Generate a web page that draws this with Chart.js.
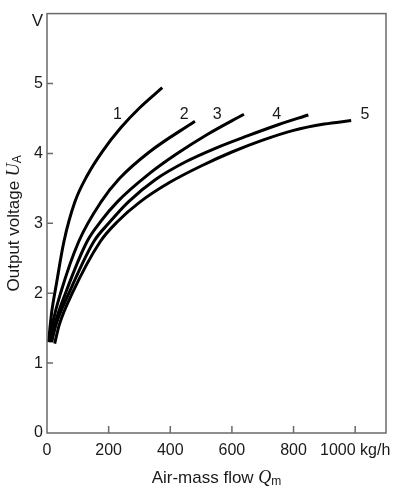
<!DOCTYPE html>
<html>
<head>
<meta charset="utf-8">
<title>Output voltage vs air-mass flow</title>
<script src="https://cdn.jsdelivr.net/npm/chart.js@4.4.1/dist/chart.umd.min.js"></script>
<style>
    html, body { margin: 0; padding: 0; background: #fff; }
    #flowChart { display: block; }
</style>
</head>
<body>
<canvas id="flowChart" width="400" height="491"></canvas>
<script>
// Air-mass flow (kg/h) and output voltage (V) for each curve
const flow1 = [5, 15, 30, 55, 90, 130, 180, 240, 300, 374];
const volt1 = [1.3, 1.72, 2.12, 2.74, 3.3, 3.68, 4.03, 4.37, 4.65, 4.94];
const flow2 = [8, 20, 44, 103, 176, 235, 332, 480];
const volt2 = [1.3, 1.6, 2.0, 2.74, 3.31, 3.64, 4.02, 4.46];
const flow3 = [12, 25, 60, 130, 175, 229, 332, 420, 520, 639];
const volt3 = [1.3, 1.55, 2.0, 2.74, 3.03, 3.31, 3.71, 3.99, 4.27, 4.56];
const flow4 = [15, 30, 71, 152, 200, 265, 350, 450, 550, 650, 750, 848];
const volt4 = [1.3, 1.56, 2.0, 2.74, 3.0, 3.31, 3.62, 3.88, 4.08, 4.25, 4.41, 4.55];
const flow5 = [25, 40, 82, 173, 230, 300, 400, 500, 600, 700, 800, 900, 987];
const volt5 = [1.28, 1.55, 2.0, 2.74, 3.03, 3.30, 3.59, 3.82, 4.02, 4.19, 4.33, 4.42, 4.47];

// Curve numbers and where they sit
const curveNames = ['1', '2', '3', '4', '5'];
const curveNameFlow = [229, 445, 552, 745, 1032];
const curveNameVolt = [4.55, 4.55, 4.55, 4.55, 4.55];

// Axis ticks
const xTickValues = [0, 200, 400, 600, 800, 1000];
const xTickLabels = ['0', '200', '400', '600', '800', '1000 kg/h'];
const yTickValues = [0, 1, 2, 3, 4, 5, 6];
const yTickLabels = ['0', '1', '2', '3', '4', '5', 'V'];

document.addEventListener('DOMContentLoaded', () => {
    const canvas = document.getElementById('flowChart');
    const sansFont = '"Liberation Sans", Arial, sans-serif';
    const serifFont = '"Liberation Serif", "Times New Roman", serif';

    function toPoints(xs, ys) {
        return xs.map((x, i) => ({ x: x, y: ys[i] }));
    }

    const curves = [
        toPoints(flow1, volt1),
        toPoints(flow2, volt2),
        toPoints(flow3, volt3),
        toPoints(flow4, volt4),
        toPoints(flow5, volt5)
    ];

//********************************************************************************
///Frame, inner tick marks, unit label, curve numbers and axis titles
//********************************************************************************
    const decorations = {
        id: 'decorations',
        afterDraw(chart) {
            const ctx = chart.ctx;
            const area = chart.chartArea;
            const xScale = chart.scales.x;
            const yScale = chart.scales.y;

            ctx.save();
            ctx.strokeStyle = '#6a6a6a';
            ctx.lineWidth = 1.5;
            ctx.strokeRect(area.left, area.top, area.right - area.left, area.bottom - area.top);

            // tick marks point into the plot
            ctx.beginPath();
            xTickValues.forEach(v => {
                if (v === 0) return;
                const px = xScale.getPixelForValue(v);
                ctx.moveTo(px, area.bottom);
                ctx.lineTo(px, area.bottom - 7);
            });
            yTickValues.forEach(v => {
                if (v === 0 || v === 6) return;
                const py = yScale.getPixelForValue(v);
                ctx.moveTo(area.left, py);
                ctx.lineTo(area.left + 6, py);
            });
            ctx.stroke();

            // the unit "V" sits a little below the top tick
            ctx.fillStyle = '#1a1a1a';
            ctx.font = '17px ' + sansFont;
            ctx.textAlign = 'right';
            ctx.textBaseline = 'middle';
            ctx.fillText(yTickLabels[6], area.left - 4, yScale.getPixelForValue(6) + 8);

            // curve numbers
            ctx.font = '16px ' + sansFont;
            ctx.textAlign = 'center';
            curveNames.forEach((name, i) => {
                ctx.fillText(name, xScale.getPixelForValue(curveNameFlow[i]), yScale.getPixelForValue(curveNameVolt[i]));
            });

            // axis titles with italic symbol and subscript
            const xParts = [
                { text: 'Air-mass flow ', font: '17px ' + sansFont, dy: 0 },
                { text: 'Q', font: 'italic 18px ' + serifFont, dy: 0 },
                { text: 'm', font: '12px ' + sansFont, dy: 4 }
            ];
            drawParts(ctx, xParts, (area.left + area.right) / 2, 478);

            ctx.translate(14, (area.top + area.bottom) / 2);
            ctx.rotate(-Math.PI / 2);
            const yParts = [
                { text: 'Output voltage ', font: '17px ' + sansFont, dy: 0 },
                { text: 'U', font: 'italic 18px ' + serifFont, dy: 0 },
                { text: 'A', font: '12px ' + sansFont, dy: 4 }
            ];
            drawParts(ctx, yParts, 0, 0);
            ctx.restore();
        }
    };

    function drawParts(ctx, parts, cx, cy) {
        let total = 0;
        parts.forEach(p => {
            ctx.font = p.font;
            p.width = ctx.measureText(p.text).width;
            total += p.width;
        });
        let x = cx - total / 2;
        ctx.textAlign = 'left';
        ctx.textBaseline = 'middle';
        ctx.fillStyle = '#1a1a1a';
        parts.forEach(p => {
            ctx.font = p.font;
            ctx.fillText(p.text, x, cy + p.dy);
            x += p.width;
        });
    }

//********************************************************************************
///Chart
//********************************************************************************
    new Chart(canvas, {
        type: 'scatter',
        data: {
            datasets: curves.map((pts, i) => ({
                label: curveNames[i],
                data: pts,
                showLine: true,
                borderColor: '#000',
                borderWidth: 3,
                pointRadius: 0,
                cubicInterpolationMode: 'monotone',
                fill: false
            }))
        },
        options: {
            responsive: false,
            animation: false,
            devicePixelRatio: 1,
            layout: { padding: { top: 10, right: 14, left: 0, bottom: 0 } },
            plugins: {
                legend: { display: false },
                tooltip: { enabled: false }
            },
            scales: {
                x: {
                    type: 'linear',
                    min: 0,
                    max: 1100,
                    grid: { display: false, drawTicks: false },
                    border: { display: false },
                    afterBuildTicks: scale => {
                        scale.ticks = xTickValues.map(v => ({ value: v }));
                    },
                    afterFit: scale => { scale.height = 58; },
                    ticks: {
                        autoSkip: false,
                        maxRotation: 0,
                        padding: 8,
                        color: '#1a1a1a',
                        font: { family: sansFont, size: 16 },
                        callback: value => xTickLabels[xTickValues.indexOf(value)]
                    }
                },
                y: {
                    type: 'linear',
                    min: 0,
                    max: 6,
                    grid: { display: false, drawTicks: false },
                    border: { display: false },
                    afterBuildTicks: scale => {
                        scale.ticks = yTickValues.map(v => ({ value: v }));
                    },
                    afterFit: scale => { scale.width = 47; },
                    ticks: {
                        autoSkip: false,
                        padding: 4,
                        color: '#1a1a1a',
                        font: { family: sansFont, size: 16 },
                        // the top tick shows the unit, drawn by the plugin
                        callback: value => (value === 6 ? '' : yTickLabels[yTickValues.indexOf(value)])
                    }
                }
            }
        },
        plugins: [decorations]
    });
});
</script>
</body>
</html>
